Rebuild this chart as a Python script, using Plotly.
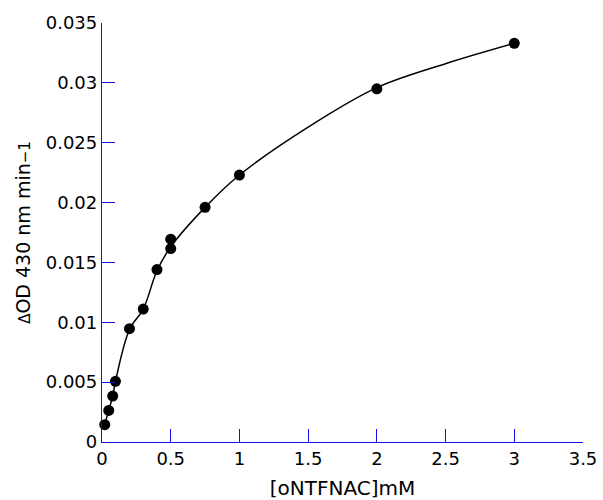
import plotly.graph_objects as go

# substrate concentration (mM) and initial rate (ΔOD430 nm/min)
conc = [0.02, 0.049, 0.078, 0.098, 0.2, 0.3, 0.4, 0.5, 0.5, 0.75, 1.0, 2.0, 3.0]
rate = [0.00145, 0.00264, 0.00384, 0.00507, 0.00947, 0.0111, 0.0144,
        0.01694, 0.01616, 0.0196, 0.0223, 0.0295, 0.0333]

# fitted curve
curve_x = [0.02, 0.049, 0.078, 0.098, 0.2, 0.3, 0.4, 0.5, 0.75, 1.0, 1.5, 2.0, 2.5, 3.0]
curve_y = [0.00145, 0.00264, 0.00384, 0.00507, 0.0094, 0.0111, 0.0143, 0.0163,
           0.0196, 0.0223, 0.0263, 0.0296, 0.0316, 0.0333]

x_ticks = [0, 0.5, 1, 1.5, 2, 2.5, 3, 3.5]
y_ticks = [0, 0.005, 0.01, 0.015, 0.02, 0.025, 0.03, 0.035]

FONT = "DejaVu Sans, Liberation Sans, Arial, sans-serif"
BLUE = "#1010ee"

fig = go.Figure()
fig.add_trace(go.Scatter(
    x=curve_x, y=curve_y, mode="lines",
    line=dict(color="black", width=1.5, shape="spline", smoothing=1.0),
    hoverinfo="skip", showlegend=False, cliponaxis=False,
))
fig.add_trace(go.Scatter(
    x=conc, y=rate, mode="markers",
    marker=dict(color="black", size=11),
    showlegend=False, cliponaxis=False,
))

axis_common = dict(
    showline=True, linecolor=BLUE, linewidth=1.3,
    ticks="inside", ticklen=13, tickcolor=BLUE, tickwidth=1.3,
    showgrid=False, zeroline=False, automargin=False,
    tickfont=dict(family=FONT, size=18, color="black"),
)

fig.update_layout(
    width=603, height=500,
    margin=dict(l=102, r=20, t=23, b=58),
    paper_bgcolor="white", plot_bgcolor="white",
    font=dict(family=FONT, color="black"),
    xaxis=dict(
        range=[0, 3.5], tickvals=x_ticks, ticktext=[f"{v:g}" for v in x_ticks],
        title=dict(text="[oNTFNAC]mM", font=dict(family=FONT, size=20), standoff=14),
        **axis_common,
    ),
    yaxis=dict(
        range=[0, 0.035], tickvals=y_ticks, ticktext=[f"{v:g}" for v in y_ticks],
        title=dict(
            text="<span style='font-size:15px'>Δ</span>OD 430 nm min<span style='font-size:15px'>−1</span>",
            font=dict(family=FONT, size=19), standoff=10,
        ),
        **axis_common,
    ),
)

fig.write_html("out.html", config={"displayModeBar": False},
               post_script="document.body.style.margin='0';")
